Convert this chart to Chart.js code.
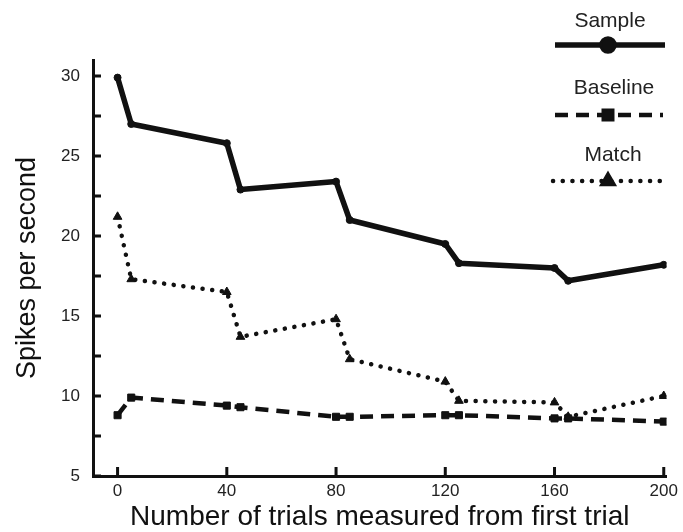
<!DOCTYPE html>
<html>
<head>
<meta charset="utf-8">
<script src="https://cdn.jsdelivr.net/npm/chart.js@4.4.0/dist/chart.umd.min.js"></script>
<style>
  html, body { margin: 0; padding: 0; background: #fff; }
  #wrap { width: 683px; height: 532px; }
</style>
</head>
<body>
<div id="wrap"><canvas id="grafico" width="683" height="532"></canvas></div>
<script>
// trials after the first one, and firing rate (spikes/s) for each condition
const trials = [0, 5, 40, 45, 80, 85, 120, 125, 160, 165, 200];
const sample = [29.9, 27.0, 25.8, 22.9, 23.4, 21.0, 19.5, 18.3, 18.0, 17.2, 18.2];
const baseline = [8.8, 9.9, 9.4, 9.3, 8.7, 8.7, 8.8, 8.8, 8.6, 8.6, 8.4];
const match = [21.2, 17.3, 16.5, 13.7, 14.8, 12.3, 10.9, 9.7, 9.6, 8.7, 10.0];

const xTicks = [0, 40, 80, 120, 160, 200];
const yTicks = [5, 7.5, 10, 12.5, 15, 17.5, 20, 22.5, 25, 27.5, 30];

const fonte = 'Liberation Sans, Arial, Helvetica, sans-serif';
const tinta = '#111';

const pontos = (arr) => arr.map((v, i) => ({ x: trials[i], y: v }));

const estilos = {
    sample:   { borderWidth: 5.5, borderDash: [],         pointStyle: 'circle',   pointRadius: 3.5, capStyle: 'butt' },
    baseline: { borderWidth: 4.5, borderDash: [13, 8],    pointStyle: 'rect',     pointRadius: 5,   capStyle: 'butt' },
    match:    { borderWidth: 4.5, borderDash: [0.1, 9.6], pointStyle: 'triangle', pointRadius: 5,   capStyle: 'round' }
};

// tick marks point inward from the axis lines
const marcasInternas = {
    id: 'marcasInternas',
    afterDraw(chart) {
        const { ctx, chartArea, scales } = chart;
        ctx.save();
        ctx.strokeStyle = tinta;
        ctx.lineWidth = 3;
        ctx.beginPath();
        xTicks.forEach(v => {
            const px = scales.x.getPixelForValue(v);
            ctx.moveTo(px, chartArea.bottom);
            ctx.lineTo(px, chartArea.bottom - 9);
        });
        yTicks.forEach(v => {
            const py = scales.y.getPixelForValue(v);
            ctx.moveTo(chartArea.left, py);
            ctx.lineTo(chartArea.left + 8, py);
        });
        ctx.stroke();
        ctx.restore();
    }
};

// stacked legend: name above a short line sample with its marker
const legendaLateral = {
    id: 'legendaLateral',
    afterDraw(chart) {
        const { ctx } = chart;
        const itens = [
            { nome: 'Sample',   est: estilos.sample,   tx: 610, ty: 21,  ly: 45,  x0: 555, x1: 665 },
            { nome: 'Baseline', est: estilos.baseline, tx: 614, ty: 88,  ly: 115, x0: 555, x1: 663 },
            { nome: 'Match',    est: estilos.match,    tx: 613, ty: 155, ly: 181, x0: 553, x1: 661 }
        ];
        ctx.save();
        itens.forEach(it => {
            ctx.fillStyle = '#222';
            ctx.font = '21px ' + fonte;
            ctx.textAlign = 'center';
            ctx.textBaseline = 'middle';
            ctx.fillText(it.nome, it.tx, it.ty);

            ctx.strokeStyle = tinta;
            ctx.lineWidth = it.est.borderWidth;
            ctx.lineCap = it.est.capStyle;
            ctx.setLineDash(it.est.borderDash);
            ctx.beginPath();
            ctx.moveTo(it.x0, it.ly);
            ctx.lineTo(it.x1, it.ly);
            ctx.stroke();
            ctx.setLineDash([]);

            Chart.helpers.drawPoint(ctx, {
                pointStyle: it.est.pointStyle,
                radius: 6,
                rotation: 0,
                borderWidth: 1
            }, 608, it.ly);
            ctx.fillStyle = tinta;
            ctx.fill();
        });
        ctx.restore();
    }
};

function serie(label, dados, est) {
    return {
        label: label,
        data: pontos(dados),
        borderColor: tinta,
        backgroundColor: tinta,
        borderWidth: est.borderWidth,
        borderDash: est.borderDash,
        borderCapStyle: est.capStyle,
        borderJoinStyle: 'round',
        pointStyle: est.pointStyle,
        pointRadius: est.pointRadius,
        pointBorderWidth: 1,
        pointBackgroundColor: tinta,
        pointBorderColor: tinta,
        tension: 0,
        fill: false
    };
}

new Chart(document.getElementById('grafico'), {
    type: 'line',
    data: {
        datasets: [
            serie('Baseline', baseline, estilos.baseline),
            serie('Match', match, estilos.match),
            serie('Sample', sample, estilos.sample)
        ]
    },
    options: {
        responsive: false,
        animation: false,
        layout: { padding: { top: 60, right: 13, left: 11, bottom: 0 } },
        plugins: {
            legend: { display: false },
            tooltip: { enabled: false }
        },
        scales: {
            x: {
                type: 'linear',
                min: -9,
                max: 201,
                afterBuildTicks: s => { s.ticks = xTicks.map(v => ({ value: v })); },
                afterFit: s => { s.height = 56; },
                grid: { display: false, drawTicks: false },
                border: { display: true, color: tinta, width: 3 },
                ticks: { color: '#222', font: { family: fonte, size: 17 }, padding: 5, maxRotation: 0 },
                title: {
                    display: true,
                    text: 'Number of trials measured from first trial',
                    color: tinta,
                    font: { family: fonte, size: 28, lineHeight: 1.0 },
                    padding: { top: 0, bottom: 1 }
                }
            },
            y: {
                type: 'linear',
                min: 5,
                max: 31,
                afterBuildTicks: s => { s.ticks = yTicks.map(v => ({ value: v })); },
                afterFit: s => { s.width = 82; },
                grid: { display: false, drawTicks: false },
                border: { display: true, color: tinta, width: 3 },
                ticks: {
                    color: '#222',
                    font: { family: fonte, size: 17 },
                    padding: 13,
                    callback: v => (v % 5 === 0 ? String(v) : '')
                },
                title: {
                    display: true,
                    text: 'Spikes per second',
                    color: tinta,
                    font: { family: fonte, size: 27 },
                    padding: { top: 0, bottom: 0 }
                }
            }
        }
    },
    plugins: [marcasInternas, legendaLateral]
});
</script>
</body>
</html>
